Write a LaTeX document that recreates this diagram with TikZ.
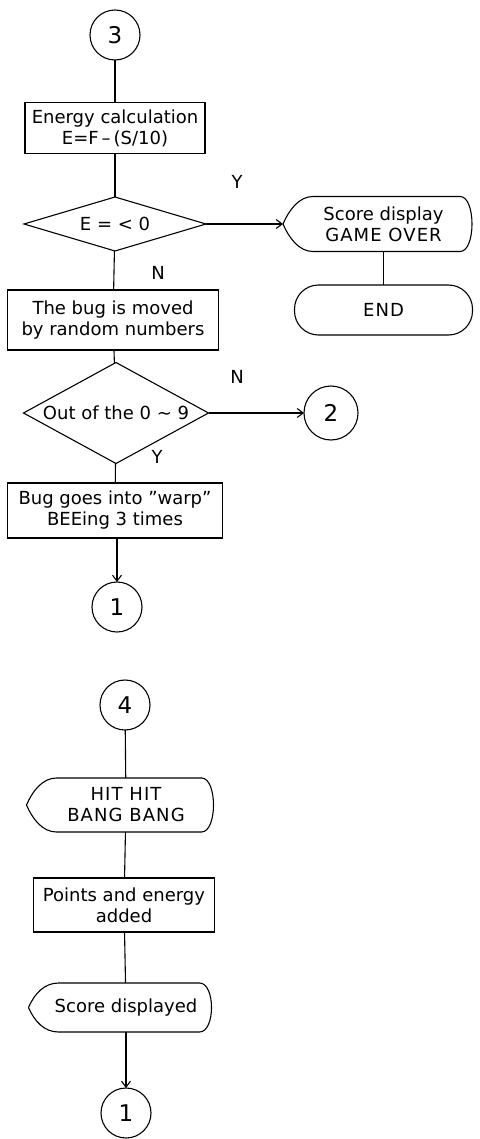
\documentclass[tikz,border=0pt]{standalone}
\usepackage{fontspec}
\setmainfont{DejaVu Sans}
\usetikzlibrary{shapes.geometric,arrows.meta}

% outline of a display symbol round a named node
\newcommand{\displine}[1]{%
  \draw[flow] ([xshift=-12pt]#1.west)
    .. controls ([xshift=-6pt,yshift=14pt]#1.west) and ([xshift=4pt]#1.north west) .. ([xshift=18pt]#1.north west)
    -- ([xshift=-12pt]#1.north east)
    .. controls ([xshift=4pt]#1.north east) and ([xshift=4pt]#1.south east) .. ([xshift=-12pt]#1.south east)
    -- ([xshift=18pt]#1.south west)
    .. controls ([xshift=4pt]#1.south west) and ([xshift=-6pt,yshift=-14pt]#1.west) .. ([xshift=-12pt]#1.west);}
% wider tracking for lines in capitals
\newcommand{\wcaps}[1]{{\addfontfeature{LetterSpace=6}#1}}

\begin{document}
\begin{tikzpicture}[
  x=1pt,
  y=1pt,
  every node/.style={inner sep=0pt, outer sep=0pt},
  txt/.style={font=\fontsize{18}{21}\selectfont, align=center},
  flow/.style={line width=1.1pt},
  flowarr/.style={flow, -{Straight Barb[length=6pt,width=9pt]}},
  procbox/.style={txt, draw, line width=1.1pt},
  decbox/.style={txt, draw, diamond, line width=1.1pt},
  dispbox/.style={txt},
  termbox/.style={txt, draw, rounded corners=24pt, line width=1.1pt},
  conn/.style={draw, circle, minimum size=50pt, line width=1.1pt, font=\fontsize{23}{23}\selectfont},
  yn/.style={txt}
]

  \useasboundingbox (0,0) rectangle (479,-1139);

  % Energy check
  \node[conn] (c3) at (115,-35) {3};
  \node[procbox, minimum width=180pt, minimum height=51pt] (calc) at (115,-128) {Energy calculation\\E=F\,–\,(S/10)};
  \node[decbox, aspect=3.4, minimum width=182pt, minimum height=54pt] (echeck) at (115,-224) {E = < 0};
  \node[dispbox, minimum width=177pt, minimum height=55pt] (over) at (383.5,-224) {Score display\\\wcaps{GAME OVER}};
  \displine{over}
  \coordinate (overtip) at ([xshift=-12pt]over.west);
  \node[termbox, minimum width=178pt, minimum height=50pt] (end) at (383.5,-310) {\wcaps{END}};
  \node[yn] (ylab1) at (237,-182) {Y};
  \node[yn] (nlab1) at (158,-273) {N};

  % Bug movement
  \node[procbox, minimum width=211pt, minimum height=60pt] (move) at (113,-320) {The bug is moved\\by random numbers};
  \node[decbox, aspect=1.83, minimum width=185pt, minimum height=101pt] (range) at (116,-413) {Out of the 0 ∼ 9};
  \node[conn, minimum size=54pt] (c2) at (331,-413) {2};
  \node[yn] (nlab2) at (237,-377) {N};
  \node[yn] (ylab2) at (157,-457) {Y};
  \node[procbox, minimum width=215pt, minimum height=55pt] (warp) at (115,-510.5) {Bug goes into ''warp''\\BEEing 3 times};
  \node[conn] (c1a) at (117,-607) {1};

  % Hit
  \node[conn] (c4) at (125,-705) {4};
  \node[dispbox, minimum width=175pt, minimum height=54pt] (hit) at (126,-805) {\wcaps{HIT HIT}\\\wcaps{BANG BANG}};
  \displine{hit}
  \node[procbox, minimum width=181pt, minimum height=54pt] (pts) at (124,-905) {Points and energy\\added};
  \node[dispbox, minimum width=171pt, minimum height=49pt] (score) at (126,-1007.5) {Score displayed};
  \displine{score}
  \node[conn] (c1b) at (126,-1113) {1};

  % Connectors
  \draw[flow] (c3) -- (calc);
  \draw[flow] (calc) -- (echeck);
  \draw[flowarr] (echeck.east) -- (overtip);
  \draw[flow] (over) -- (end);
  \draw[flow] (echeck) -- (move);
  \draw[flow] (move) -- (range);
  \draw[flowarr] (range.east) -- (c2);
  \draw[flow] (range) -- (warp);
  \draw[flowarr] (warp.south -| c1a) -- (c1a);

  \draw[flow] (c4) -- (hit);
  \draw[flow] (hit) -- (pts);
  \draw[flow] (pts) -- (score);
  \draw[flowarr] (score) -- (c1b);

\end{tikzpicture}
\end{document}
